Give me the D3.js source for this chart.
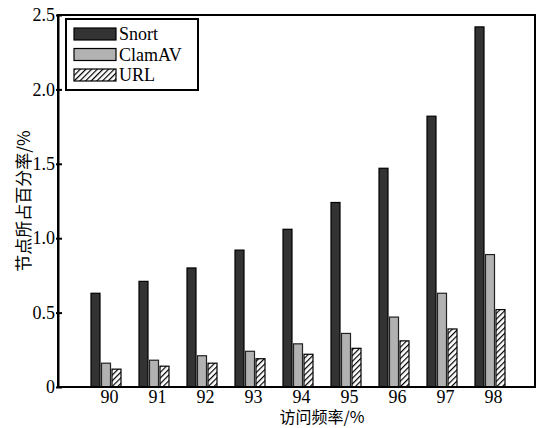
<script src="https://d3js.org/d3.v7.min.js"></script>
<style>
  body { margin: 0; background: #fff; }
  text { font-family: "Liberation Serif", "DejaVu Serif", serif; fill: #000; }
  .cjk { font-family: "Noto Sans CJK SC", sans-serif; }
</style>
<div id="container"></div>

<script type="text/javascript">

var width = 536, height = 428;

// data
var categories = ["90", "91", "92", "93", "94", "95", "96", "97", "98"];
var seriesNames = ["Snort", "ClamAV", "URL"];
var snort  = [0.63, 0.71, 0.80, 0.92, 1.06, 1.24, 1.47, 1.82, 2.42];
var clamav = [0.16, 0.18, 0.21, 0.24, 0.29, 0.36, 0.47, 0.63, 0.89];
var url    = [0.12, 0.14, 0.16, 0.19, 0.22, 0.26, 0.31, 0.39, 0.52];
var yTicks = [0, 0.5, 1.0, 1.5, 2.0, 2.5];

var series = [snort, clamav, url];
var fills = ["#333333", "#b2b2b2", "url(#hatch)"];

// plot box (note: "top" is reserved on window, so use other names)
var pLeft = 58, pRight = 536, pTop = 15, pBottom = 387;

var svg = d3.select('#container')
  .append('svg')
  .attr('width', width)
  .attr('height', height)
  .style('background-color', 'white');

// diagonal hatch for URL
var pat = svg.append('defs').append('pattern')
  .attr('id', 'hatch')
  .attr('patternUnits', 'userSpaceOnUse')
  .attr('width', 4).attr('height', 4)
  .attr('patternTransform', 'rotate(45)');
pat.append('rect').attr('width', 4).attr('height', 4).attr('fill', 'white');
pat.append('line')
  .attr('x1', 0).attr('y1', 0).attr('x2', 0).attr('y2', 4)
  .attr('stroke', 'black').attr('stroke-width', 2.4);

var x = d3.scalePoint()
  .domain(categories)
  .range([pLeft, pRight + 2])
  .padding(1);

var y = d3.scaleLinear()
  .domain([0, 2.5])
  .range([pBottom, pTop]);

var barW = 9, barStep = 10.5;

// bars
series.forEach(function(vals, s){
  svg.append('g')
    .selectAll('rect')
    .data(vals)
    .enter()
    .append('rect')
    .attr('x', function(d, i){ return x(categories[i]) + (s - 1) * barStep - barW / 2; })
    .attr('y', function(d){ return y(d); })
    .attr('width', barW)
    .attr('height', function(d){ return y(0) - y(d); })
    .attr('fill', fills[s])
    .attr('stroke', s == 1 ? '#222' : '#000')
    .attr('stroke-width', 1.2);
});

// frame
svg.append('path')
  .attr('d', 'M' + pLeft + ',' + pBottom + 'V' + pTop + 'H' + (pRight - 1) + 'V' + pBottom)
  .attr('fill', 'none')
  .attr('stroke', 'black')
  .attr('stroke-width', 2);

// y axis
var yAxis = d3.axisLeft(y)
  .tickValues(yTicks)
  .tickFormat(function(d){ return d == 0 ? "0" : d3.format(".1f")(d); })
  .tickSizeInner(-4)
  .tickSizeOuter(0)
  .tickPadding(4);

var gy = svg.append('g')
  .attr('transform', 'translate(' + pLeft + ',0)')
  .call(yAxis);
gy.select('.domain').attr('stroke-width', 2);
gy.selectAll('.tick line').attr('stroke-width', 2).attr('x1', -2).attr('x2', 4);
gy.selectAll('.tick text')
  .style('font-size', '18px')
  .style('font-family', '"Liberation Serif", serif')
  .attr('x', -3);

// x axis
var xAxis = d3.axisBottom(x)
  .tickSize(0)
  .tickPadding(3);

var gx = svg.append('g')
  .attr('transform', 'translate(0,' + pBottom + ')')
  .call(xAxis);
gx.select('.domain').remove();
gx.selectAll('.tick text')
  .style('font-size', '18px')
  .style('font-family', '"Liberation Serif", serif')
  .attr('dx', 3);

svg.append('line')
  .attr('x1', pLeft).attr('x2', pRight)
  .attr('y1', pBottom).attr('y2', pBottom)
  .attr('stroke', 'black').attr('stroke-width', 2);

// axis titles
svg.append('text')
  .attr('class', 'cjk')
  .attr('x', 322)
  .attr('y', 423)
  .attr('text-anchor', 'middle')
  .style('font-size', '16px')
  .text('访问频率/%');

svg.append('text')
  .attr('class', 'cjk')
  .attr('transform', 'translate(30,201) rotate(-90)')
  .attr('text-anchor', 'middle')
  .style('font-size', '17px')
  .text('节点所占百分率/%');

// legend
var lg = svg.append('g');
lg.append('rect')
  .attr('x', 66).attr('y', 19)
  .attr('width', 132).attr('height', 71)
  .attr('fill', 'white')
  .attr('stroke', 'black')
  .attr('stroke-width', 2);

var item = lg.selectAll('g.item')
  .data(seriesNames)
  .enter()
  .append('g')
  .attr('transform', function(d, i){ return 'translate(74,' + (28 + i * 20.5) + ')'; });

item.append('rect')
  .attr('width', 42).attr('height', 12)
  .attr('fill', function(d, i){ return fills[i]; })
  .attr('stroke', 'black')
  .attr('stroke-width', 1.2);

item.append('text')
  .attr('x', 45)
  .attr('y', 12)
  .style('font-size', '18px')
  .text(function(d){ return d; });

</script>
